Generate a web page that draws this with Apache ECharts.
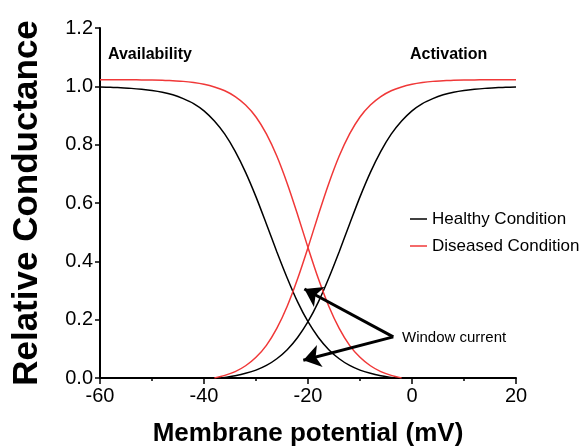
<!DOCTYPE html>
<html>
<head>
<meta charset="utf-8">
<script src="https://cdn.jsdelivr.net/npm/echarts@6/dist/echarts.min.js"></script>
<style>html,body{margin:0;padding:0;background:#fff}#c{width:587px;height:448px}</style>
</head>
<body>
<div id="c"></div>
<script>
// Membrane potential (mV) sample points
var voltage = [-60,-58,-56,-54,-52,-50,-48,-46,-44,-42,-40,-38,-36,-34,-32,-30,-28,-26,-24,-22,-20,-18,-16,-14,-12,-10,-8,-6,-4,-2,0,2,4,6,8,10,12,14,16,18,20];
// Healthy condition
var healthyAvailability = [0.998,0.997,0.995,0.993,0.990,0.986,0.980,0.971,0.958,0.941,0.916,0.881,0.836,0.777,0.705,0.621,0.528,0.433,0.343,0.261,0.193,0.139,0.097,0.066,0.043,0.027,0.016,0.008,0.002,0,null,null,null,null,null,null,null,null,null,null,null];
var healthyActivation = [null,null,null,null,null,null,null,null,null,null,null,0,0.002,0.008,0.016,0.027,0.043,0.066,0.097,0.139,0.193,0.261,0.343,0.433,0.528,0.621,0.705,0.777,0.836,0.881,0.916,0.941,0.958,0.971,0.980,0.986,0.990,0.993,0.995,0.997,0.998];
// Diseased condition
var diseasedAvailability = [1.023,1.023,1.023,1.023,1.022,1.022,1.021,1.019,1.017,1.013,1.007,0.998,0.985,0.965,0.936,0.895,0.837,0.761,0.667,0.560,0.447,0.340,0.246,0.170,0.112,0.071,0.042,0.022,0.009,0,null,null,null,null,null,null,null,null,null,null,null];
var diseasedActivation = [null,null,null,null,null,null,null,null,null,null,null,0,0.009,0.022,0.042,0.071,0.112,0.170,0.246,0.340,0.447,0.560,0.667,0.761,0.837,0.895,0.936,0.965,0.985,0.998,1.007,1.013,1.017,1.019,1.021,1.022,1.022,1.023,1.023,1.023,1.023];
// Axis ticks
var xTicks = [-60,-40,-20,0,20];
var yTicks = [0.0,0.2,0.4,0.6,0.8,1.0,1.2];
// Window current arrows (tail -> heads), in data units
var arrowTail = [-3.6, 0.141];
var arrowHeads = [[-20.7, 0.305], [-20.9, 0.061]];

var FONT = '"Liberation Sans", Arial, Helvetica, sans-serif';
var BLACK = '#000000', RED = '#f03838';

function pairs(vals){ return voltage.map(function(v,i){ return [v, vals[i]]; }); }

function lineSeries(name, vals, color, extra){
  var s = {
    name: name, type: 'line', data: pairs(vals), symbol: 'none', showSymbol: false,
    smooth: 0.3, connectNulls: false, silent: true,
    lineStyle: { color: color, width: 1.5 }, itemStyle: { color: color }
  };
  if (extra) for (var k in extra) s[k] = extra[k];
  return s;
}

var chart = echarts.init(document.getElementById('c'), null, {renderer: 'canvas'});
chart.setOption({
  animation: false,
  backgroundColor: '#ffffff',
  textStyle: { fontFamily: FONT },
  grid: { left: 100, right: 71, top: 28, bottom: 70, containLabel: false, outerBoundsMode: 'none' },
  xAxis: {
    type: 'value', min: xTicks[0], max: xTicks[xTicks.length-1], interval: 20,
    name: 'Membrane potential (mV)', nameLocation: 'middle', nameGap: 43,
    nameTextStyle: { fontSize: 26, fontWeight: 'bold', color: BLACK, fontFamily: FONT },
    axisLine: { show: true, onZero: false, lineStyle: { color: BLACK, width: 2 } },
    axisTick: { show: true, length: 6, lineStyle: { color: BLACK, width: 1.5 } },
    minorTick: { show: true, splitNumber: 2, length: 3, lineStyle: { color: BLACK, width: 1.5 } },
    axisLabel: { fontSize: 20, color: BLACK, margin: 8, fontFamily: FONT },
    splitLine: { show: false }
  },
  yAxis: {
    type: 'value', min: yTicks[0], max: yTicks[yTicks.length-1], interval: 0.2,
    name: 'Relative Conductance', nameLocation: 'middle', nameGap: 55,
    nameTextStyle: { fontSize: 35, fontWeight: 'bold', color: BLACK, fontFamily: FONT },
    axisLine: { show: true, onZero: false, lineStyle: { color: BLACK, width: 2 } },
    axisTick: { show: true, length: 5, lineStyle: { color: BLACK, width: 1.5 } },
    axisLabel: { fontSize: 20, color: BLACK, margin: 7, fontFamily: FONT,
      formatter: function(v){ return v.toFixed(1); } },
    splitLine: { show: false }
  },
  legend: {
    orient: 'vertical', left: 405, top: 205, itemGap: 9,
    itemWidth: 17, itemHeight: 1.5,
    textStyle: { fontSize: 17, color: BLACK, fontFamily: FONT, lineHeight: 18 },
    data: [
      { name: 'Healthy Condition', icon: 'rect', itemStyle: { color: BLACK } },
      { name: 'Diseased Condition', icon: 'rect', itemStyle: { color: RED } }
    ]
  },
  series: [
    lineSeries('Healthy Condition', healthyAvailability, BLACK),
    lineSeries('Healthy Condition', healthyActivation, BLACK),
    lineSeries('Diseased Condition', diseasedAvailability, RED),
    lineSeries('Diseased Condition', diseasedActivation, RED, {
      markLine: {
        silent: true, symbol: ['none', 'arrow'], symbolSize: 17, precision: 3,
        label: { show: false },
        lineStyle: { color: BLACK, width: 3, type: 'solid' },
        itemStyle: { color: BLACK },
        emphasis: { disabled: true },
        data: arrowHeads.map(function(h){ return [{ coord: arrowTail }, { coord: h }]; })
      }
    })
  ],
  graphic: [
    { type: 'text', x: 108, y: 55, silent: true,
      style: { text: 'Availability', font: 'bold 16px ' + FONT, fill: BLACK, verticalAlign: 'middle' } },
    { type: 'text', x: 410, y: 55, silent: true,
      style: { text: 'Activation', font: 'bold 16px ' + FONT, fill: BLACK, verticalAlign: 'middle' } },
    { type: 'text', x: 402, y: 338, silent: true,
      style: { text: 'Window current', font: '15px ' + FONT, fill: BLACK, verticalAlign: 'middle' } }
  ]
});
</script>
</body>
</html>
